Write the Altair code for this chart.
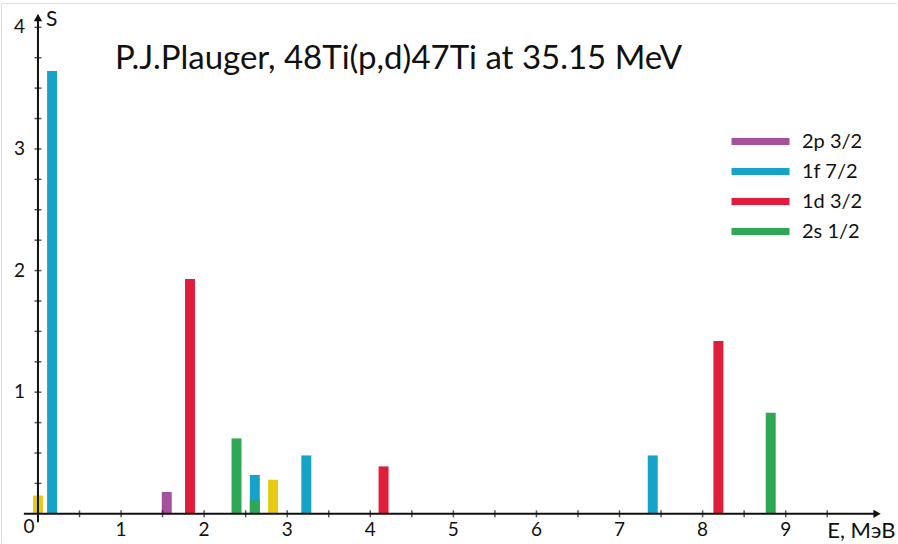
import altair as alt
import pandas as pd

# Spectroscopic strengths S of 47Ti levels from 48Ti(p,d) at 35.15 MeV
energy = [0.0, 0.17, 1.55, 1.83, 2.39, 2.61, 2.61, 2.83, 3.23, 4.16, 7.40, 8.19, 8.82]
strength = [0.15, 3.64, 0.18, 1.93, 0.62, 0.32, 0.11, 0.28, 0.48, 0.39, 0.48, 1.42, 0.83]
orbital = ["unassigned", "1f 7/2", "2p 3/2", "1d 3/2", "2s 1/2", "1f 7/2", "2s 1/2",
           "unassigned", "1f 7/2", "1d 3/2", "1f 7/2", "1d 3/2", "2s 1/2"]

legend_labels = ["2p 3/2", "1f 7/2", "1d 3/2", "2s 1/2"]
orbital_domain = legend_labels + ["unassigned"]
orbital_colors = ["#A4509C", "#17A2C8", "#E01E3C", "#2FA855", "#E6CB12"]

x_tick_values = [0.5 * i for i in range(1, 20)]
y_tick_values = [0.25 * i for i in range(1, 17)]
x_label_values = [1, 2, 3, 4, 5, 6, 7, 8, 9]
y_label_values = [1, 2, 3, 4]

FONT = "Lato"
INK = "#111111"
HALF_BAR = 0.06  # half bar width, in MeV

bars_df = pd.DataFrame({"E": energy, "S": strength, "orbital": orbital})

xs = alt.Scale(domain=[-0.445, 10.34], nice=False, zero=False)
ys = alt.Scale(domain=[-0.24, 4.2], nice=False, zero=False)

one = alt.Data(values=[{}])

# wide flat key: a 4:0.48 bar shape, scaled by the symbol size
legend_key = "M-2,-0.24L2,-0.24L2,0.24L-2,0.24Z"

bars = alt.Chart(bars_df).transform_calculate(
    E0=f"datum.E - {HALF_BAR}", E1=f"datum.E + {HALF_BAR}"
).mark_bar().encode(
    x=alt.X("E0:Q", scale=xs, axis=None),
    x2="E1:Q",
    y=alt.Y("S:Q", scale=ys, axis=None),
    y2=alt.datum(0),
    color=alt.Color(
        "orbital:N",
        scale=alt.Scale(domain=orbital_domain, range=orbital_colors),
        legend=alt.Legend(
            orient="none", legendX=745, legendY=124, values=legend_labels,
            title=None, padding=0,
            symbolType=legend_key, symbolSize=841,
            symbolStrokeWidth=0, symbolOpacity=1,
            labelFont=FONT, labelFontSize=20, labelColor=INK, labelOffset=27,
            rowPadding=5,
        ),
    ),
)

x_axis_line = alt.Chart(one).mark_rule(color=INK, strokeWidth=2).encode(
    x=alt.datum(-0.17, scale=xs), x2=alt.datum(10.1), y=alt.datum(0, scale=ys)
)
y_axis_line = alt.Chart(one).mark_rule(color=INK, strokeWidth=2).encode(
    x=alt.datum(0, scale=xs), y=alt.datum(-0.07, scale=ys), y2=alt.datum(4.1)
)
x_arrow = alt.Chart(one).mark_point(
    shape="triangle-right", filled=True, color=INK, size=70, opacity=1
).encode(x=alt.datum(10.1, scale=xs), y=alt.datum(0, scale=ys))
y_arrow = alt.Chart(one).mark_point(
    shape="triangle-up", filled=True, color=INK, size=70, opacity=1
).encode(x=alt.datum(0, scale=xs), y=alt.datum(4.08, scale=ys))

x_ticks = alt.Chart(pd.DataFrame({"v": x_tick_values})).mark_tick(
    orient="vertical", size=7, thickness=1.5, color=INK
).encode(x=alt.X("v:Q", scale=xs), y=alt.datum(0, scale=ys))
y_ticks = alt.Chart(pd.DataFrame({"v": y_tick_values})).mark_tick(
    orient="horizontal", size=7, thickness=1.5, color=INK
).encode(y=alt.Y("v:Q", scale=ys), x=alt.datum(0, scale=xs))

x_labels = alt.Chart(pd.DataFrame({"v": x_label_values})).mark_text(
    font=FONT, fontSize=19, color=INK, baseline="middle", dy=16
).encode(x=alt.X("v:Q", scale=xs), y=alt.datum(0, scale=ys), text="v:Q")
zero_label = alt.Chart(one).mark_text(
    font=FONT, fontSize=19, color=INK, baseline="middle", dx=-9, dy=13
).encode(x=alt.datum(0, scale=xs), y=alt.datum(0, scale=ys), text=alt.value("0"))
y_labels = alt.Chart(pd.DataFrame({"v": y_label_values})).mark_text(
    font=FONT, fontSize=19, color=INK, baseline="middle", align="right", dx=-13
).encode(y=alt.Y("v:Q", scale=ys), x=alt.datum(0, scale=xs), text="v:Q")

s_title = alt.Chart(one).mark_text(
    font=FONT, fontSize=21, color=INK, baseline="middle", align="left", dx=8
).encode(x=alt.datum(0, scale=xs), y=alt.datum(4.06, scale=ys), text=alt.value("S"))
e_title = alt.Chart(one).mark_text(
    font=FONT, fontSize=22, color=INK, baseline="middle", align="left", dy=17
).encode(x=alt.datum(9.5, scale=xs), y=alt.datum(0, scale=ys), text=alt.value("E, МэВ"))

chart = alt.layer(
    bars, x_axis_line, y_axis_line, x_ticks, y_ticks, x_arrow, y_arrow,
    x_labels, zero_label, y_labels, s_title, e_title,
).properties(
    width=896,
    height=540,
    padding={"left": 1, "top": 3, "right": 0, "bottom": 0},
    autosize=alt.AutoSizeParams(type="none"),
    title=alt.TitleParams(
        "P.J.Plauger, 48Ti(p,d)47Ti at 35.15 MeV",
        anchor="start", frame="group", orient="top", offset=0,
        dx=114, dy=99, baseline="alphabetic",
        font=FONT, fontSize=33, fontWeight="normal", color=INK,
    ),
).configure_view(stroke=None).configure(background="white")

chart.save("out.html", embed_options={"renderer": "svg", "actions": False})
